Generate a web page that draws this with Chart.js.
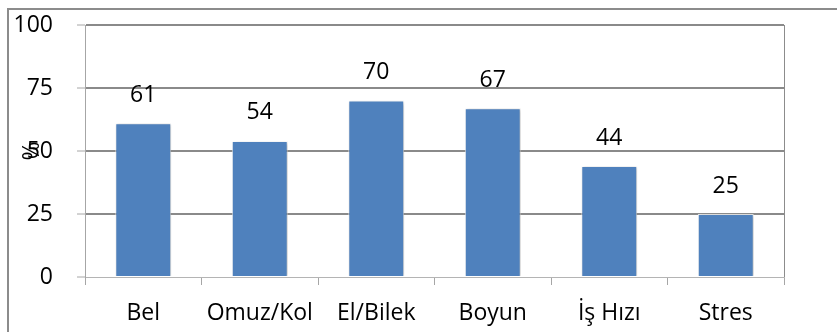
<!DOCTYPE html>
<html>
<head>
<meta charset="utf-8">
<script src="https://cdn.jsdelivr.net/npm/chart.js@4/dist/chart.umd.min.js"></script>
<style>
  body { margin: 0; background: #fff; }
  #wrap { position: relative; width: 837px; height: 332px; overflow: hidden; }
  #frame { position: absolute; left: 7px; top: 8px; width: 900px; height: 400px;
           border-left: 2px solid #8c8c8c; border-top: 2px solid #8c8c8c; }
  canvas { position: absolute; left: 0; top: 0; }
</style>
</head>
<body>
<div id="wrap">
  <div id="frame"></div>
  <canvas id="chart" width="837" height="332"></canvas>
</div>
<script>
// kategoriler ve değerler
var categories = ["Bel", "Omuz/Kol", "El/Bilek", "Boyun", "İş Hızı", "Stres"];
var values = [61, 54, 70, 67, 44, 25];
var yTicks = [0, 25, 50, 75, 100];
var yTitle = "%";

var font = "'Open Sans', 'Liberation Sans', sans-serif";

// çubukların üstüne değer yazdırma + gölge
var barLabels = {
    id: 'barLabels',
    beforeDatasetsDraw: function(chart) {
        var c = chart.ctx;
        c.save();
        c.shadowColor = 'rgba(0,0,0,0.3)';
        c.shadowBlur = 3;
        c.shadowOffsetX = 1;
        c.shadowOffsetY = 1;
    },
    afterDatasetsDraw: function(chart) {
        var c = chart.ctx;
        c.restore();
        var meta = chart.getDatasetMeta(0);
        c.save();
        c.font = '23px ' + font;
        c.fillStyle = '#000';
        c.textAlign = 'center';
        c.textBaseline = 'middle';
        meta.data.forEach(function(bar, i) {
            c.fillText(values[i], bar.x, bar.y - 28);
        });
        c.restore();
    }
};

var ctx = document.getElementById("chart").getContext('2d');
var chart = new Chart(ctx, {
    type: 'bar',
    data: {
        labels: categories,
        datasets: [{
            data: values,
            backgroundColor: '#4f81bd',
            borderColor: 'rgba(255,255,255,0.8)',
            borderWidth: 1,
            barPercentage: 0.48,
            categoryPercentage: 1
        }]
    },
    plugins: [barLabels],
    options: {
        responsive: false,
        animation: false,
        layout: { padding: { top: 25, right: 53, left: 0, bottom: 0 } },
        plugins: {
            legend: { display: false },
            tooltip: { enabled: false }
        },
        scales: {
            x: {
                afterFit: function(s) { s.height = 55; },
                grid: {
                    offset: true,
                    color: function(c) { return c.index === undefined ? '#8c8c8c' : 'rgba(0,0,0,0)'; },
                    lineWidth: 1,
                    tickColor: '#a6a6a6',
                    tickWidth: 1,
                    tickLength: 8
                },
                border: { color: '#b4b4b4', width: 1 },
                ticks: {
                    color: '#000',
                    padding: 15,
                    maxRotation: 0,
                    font: { family: font, size: 23 }
                }
            },
            y: {
                min: 0,
                max: 100,
                afterFit: function(s) {
                    s.width = 85;
                    s.paddingTop = 0;
                    s.paddingBottom = 0;
                },
                afterBuildTicks: function(s) {
                    s.ticks = yTicks.map(function(v) { return { value: v }; });
                },
                grid: {
                    color: function(c) { return c.tick && c.tick.value === 0 ? 'rgba(0,0,0,0)' : '#8a8a8a'; },
                    lineWidth: 2,
                    tickColor: '#a6a6a6',
                    tickWidth: 1,
                    tickLength: 8
                },
                border: { color: '#a6a6a6', width: 1 },
                ticks: {
                    color: '#000',
                    padding: 24,
                    font: { family: font, size: 23 }
                },
                title: {
                    display: true,
                    text: yTitle,
                    color: '#000',
                    padding: { top: 19, bottom: 0 },
                    font: { family: font, size: 23 }
                }
            }
        }
    }
});
</script>
</body>
</html>
